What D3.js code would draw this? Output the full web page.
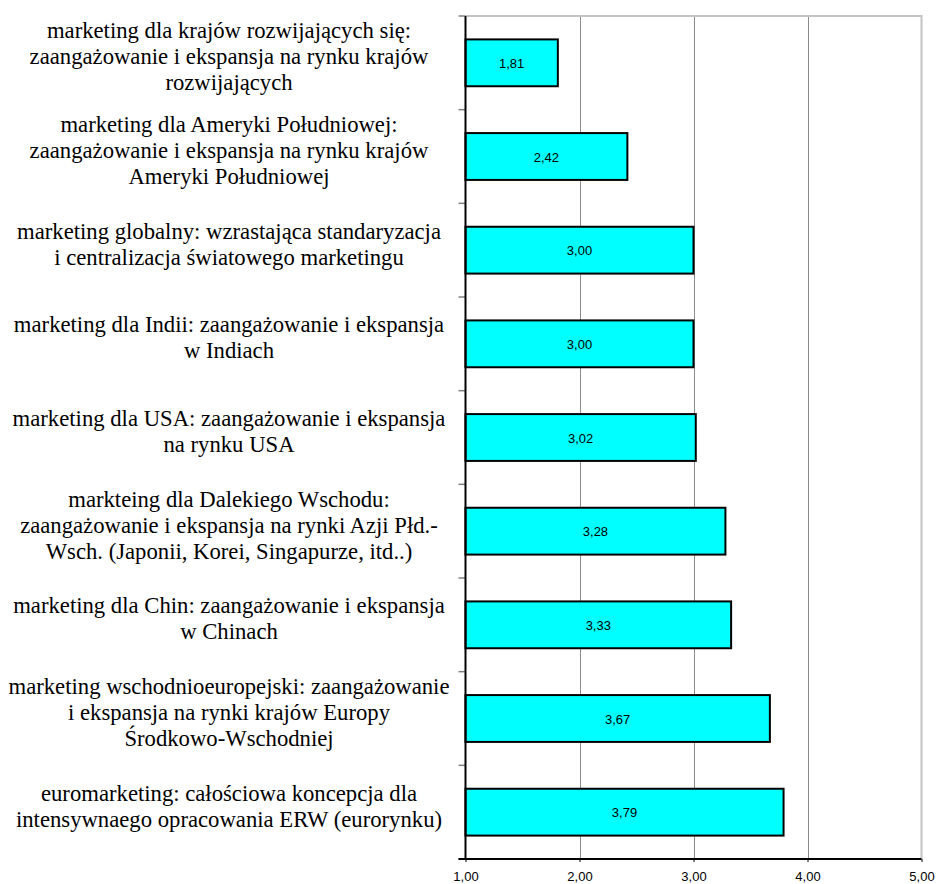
<!DOCTYPE html>
<html lang="pl">
<head>
<meta charset="utf-8">
<title>Marketing</title>
<script src="https://d3js.org/d3.v7.min.js"></script>
<style>
  body { margin: 0; background: #fff; }
</style>
</head>
<body>
<script>
// categories (each entry = lines of the label), top to bottom
var categories = [
  ["marketing dla krajów rozwijających się:", "zaangażowanie i ekspansja na rynku krajów", "rozwijających"],
  ["marketing dla Ameryki Południowej:", "zaangażowanie i ekspansja na rynku krajów", "Ameryki Południowej"],
  ["marketing globalny: wzrastająca standaryzacja", "i centralizacja światowego marketingu"],
  ["marketing dla Indii: zaangażowanie i ekspansja", "w Indiach"],
  ["marketing dla USA: zaangażowanie i ekspansja", "na rynku USA"],
  ["markteing dla Dalekiego Wschodu:", "zaangażowanie i ekspansja na rynki Azji Płd.-", "Wsch. (Japonii, Korei, Singapurze, itd..)"],
  ["marketing dla Chin: zaangażowanie i ekspansja", "w Chinach"],
  ["marketing wschodnioeuropejski: zaangażowanie", "i ekspansja na rynki krajów Europy", "Środkowo-Wschodniej"],
  ["euromarketing: całościowa koncepcja dla", "intensywnaego opracowania ERW (eurorynku)"]
];
var values = [1.81, 2.42, 3.00, 3.00, 3.02, 3.28, 3.33, 3.67, 3.79];
var xTicks = [1, 2, 3, 4, 5];

var w = 936, h = 884;
var plotL = 465.5, plotR = 921.5, plotT = 16, plotB = 859;
var labelCenter = 229;

var fmt = function(v) { return d3.format(".2f")(v).replace(".", ","); };

var svg = d3.select("body").append("svg").attr("width", w).attr("height", h);

var x = d3.scaleLinear().domain([1, 5]).range([plotL, plotR]);
var y = d3.scaleBand().domain(d3.range(categories.length)).range([plotT, plotB]).paddingInner(0.5).paddingOuter(0.25);

// gridlines
svg.append("g").selectAll("line").data(xTicks.slice(1, -1)).join("line")
  .attr("x1", d => Math.round(x(d)) + 0.5).attr("x2", d => Math.round(x(d)) + 0.5)
  .attr("y1", plotT).attr("y2", plotB)
  .attr("stroke", "#8c8c8c").attr("stroke-width", 1);

// top and right border
svg.append("path")
  .attr("d", `M${plotL},${plotT}H${plotR}V${plotB}`)
  .attr("fill", "none").attr("stroke", "#c4c4c4").attr("stroke-width", 2);

// bars
svg.append("g").selectAll("rect").data(values).join("rect")
  .attr("x", x(1))
  .attr("y", (d, i) => y(i))
  .attr("width", d => x(d) - x(1))
  .attr("height", y.bandwidth())
  .attr("fill", "#00ffff")
  .attr("stroke", "#000").attr("stroke-width", 2);

// value labels
svg.append("g").selectAll("text").data(values).join("text")
  .attr("x", d => (x(1) + x(d)) / 2)
  .attr("y", (d, i) => y(i) + y.bandwidth() / 2 + 5)
  .attr("text-anchor", "middle")
  .attr("font-family", "Liberation Sans, Arial, sans-serif")
  .attr("font-size", "13px")
  .text(fmt);

// left axis (category boundaries as ticks)
var step = (plotB - plotT) / categories.length;
svg.append("g").selectAll("line").data(d3.range(categories.length + 1)).join("line")
  .attr("x1", plotL - 7).attr("x2", plotL)
  .attr("y1", i => plotT + i * step).attr("y2", i => plotT + i * step)
  .attr("stroke", "#808080").attr("stroke-width", 1.5);
svg.append("line")
  .attr("x1", plotL).attr("x2", plotL).attr("y1", plotT).attr("y2", plotB)
  .attr("stroke", "#000").attr("stroke-width", 2);

// bottom axis
var xAxis = d3.axisBottom(x).tickValues(xTicks).tickSize(3).tickFormat(fmt);
var gx = svg.append("g").attr("transform", `translate(0,${plotB})`).call(xAxis);
gx.select(".domain").attr("stroke", "#000").attr("stroke-width", 2).attr("d", `M${plotL - 7},0H${plotR}`);
gx.selectAll(".tick line").attr("stroke", "#000");
gx.selectAll(".tick text")
  .attr("y", 13).attr("dy", "0.71em")
  .attr("font-family", "Liberation Sans, Arial, sans-serif")
  .attr("font-size", "13px").attr("fill", "#000");

// category labels
var lineH = 26;
var labels = svg.append("g").selectAll("text").data(categories).join("text")
  .attr("text-anchor", "middle")
  .attr("font-family", "'Liberation Serif', 'Times New Roman', serif")
  .attr("font-size", "22.7px")
  .attr("fill", "#000");
labels.each(function(lines, i) {
  var cy = y(i) + y.bandwidth() / 2 + 1.5;
  d3.select(this).selectAll("tspan").data(lines).join("tspan")
    .attr("x", labelCenter)
    .attr("y", (l, j) => cy + (j - (lines.length - 1) / 2) * lineH)
    .text(l => l);
});
</script>
</body>
</html>
